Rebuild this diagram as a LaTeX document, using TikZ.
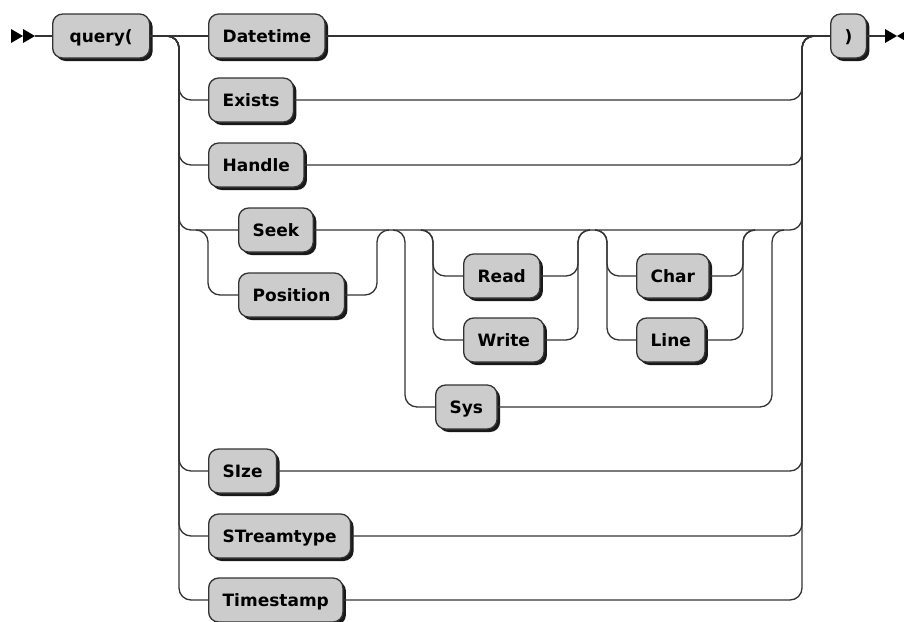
\documentclass[tikz,border=0pt]{standalone}
\usepackage{fontspec}
\setmainfont{DejaVu Sans}
\usepackage{tikz}
\usetikzlibrary{shadows}
\definecolor{railgray}{HTML}{333333}
\definecolor{termfill}{HTML}{CCCCCC}
\tikzset{
  term/.style={
    draw=railgray,
    line width=1.3pt,
    fill=termfill,
    rounded corners=10pt,
    minimum height=44pt,
    inner xsep=14pt,
    inner ysep=0pt,
    text height=12.4pt,
    text depth=0pt,
    anchor=west,
    font=\fontsize{17}{20}\selectfont\bfseries,
    drop shadow={shadow xshift=3pt, shadow yshift=-3pt, fill=black, opacity=0.9}
  },
  rail/.style={draw=railgray, line width=1.3pt, rounded corners=12pt},
  marker/.style={fill=black}
}

\begin{document}
\begin{tikzpicture}[x=1pt, y=-1pt]
  \useasboundingbox (0,0) rectangle (904,621);

  % Terms
  \node[term, minimum width=97pt] (query) at (52,36) {query(};
  \node[term] (Datetime) at (208,36) {Datetime};
  \node[term] (Exists) at (208,100) {Exists};
  \node[term] (Handle) at (208,165) {Handle};
  \node[term] (Seek) at (238,230) {Seek};
  \node[term] (Position) at (238,295) {Position};
  \node[term] (Read) at (463,276) {Read};
  \node[term] (Write) at (463,340) {Write};
  \node[term] (Char) at (636,276) {Char};
  \node[term] (Line) at (636,340) {Line};
  \node[term] (Sys) at (435,407) {Sys};
  \node[term] (SIze) at (208,471) {SIze};
  \node[term] (STreamtype) at (208,536) {STreamtype};
  \node[term] (Timestamp) at (208,600) {Timestamp};
  \node[term] (close) at (830,36) {)};

  % Split and join points
  \coordinate (L1) at (179,36);
  \coordinate (R1) at (802,36);
  \coordinate (S2) at (208,230);
  \coordinate (J2) at (377,230);
  \coordinate (S3) at (405,230);
  \coordinate (J3) at (772,230);
  \coordinate (S4) at (433,230);
  \coordinate (J4) at (578,230);
  \coordinate (S5) at (607,230);
  \coordinate (J5) at (743,230);

  % Start and end
  \coordinate (start) at (35,36);
  \coordinate (stop) at (885,36);
  \fill[marker] (11,29) -- (23,36) -- (11,43) -- cycle;
  \fill[marker] (23,29) -- (35,36) -- (23,43) -- cycle;
  \draw[rail] (start) -- (query.west);
  \draw[rail] (close.east) -- (stop);
  \fill[marker] (885,29) -- (897,36) -- (885,43) -- cycle;
  \fill[marker] (909,29) -- (897,36) -- (909,43) -- cycle;

  % Main choice
  \draw[rail] (query.east) -- (Datetime.west);
  \draw[rail] (Datetime.east) -- (close.west);
  \foreach \t in {Exists, Handle, Seek, SIze, STreamtype, Timestamp} {
    \draw[rail] (query.east) -- (L1) |- (\t.west);
    \draw[rail] (\t.east) -| (R1) -- (close.west);
  }

  % Seek or Position
  \draw[rail] (S2) ++(-12,0) -- (S2) |- (Position.west);
  \draw[rail] (Position.east) -| (J2) -- ++(12,0);

  % Sys branch
  \draw[rail] (S3) ++(-12,0) -- (S3) |- (Sys.west);
  \draw[rail] (Sys.east) -| (J3) -- ++(12,0);

  % Read or Write, Char or Line
  \foreach \t in {Read, Write} {
    \draw[rail] (S4) ++(-12,0) -- (S4) |- (\t.west);
    \draw[rail] (\t.east) -| (J4) -- ++(12,0);
  }
  \foreach \t in {Char, Line} {
    \draw[rail] (S5) ++(-12,0) -- (S5) |- (\t.west);
    \draw[rail] (\t.east) -| (J5) -- ++(12,0);
  }

\end{tikzpicture}
\end{document}
